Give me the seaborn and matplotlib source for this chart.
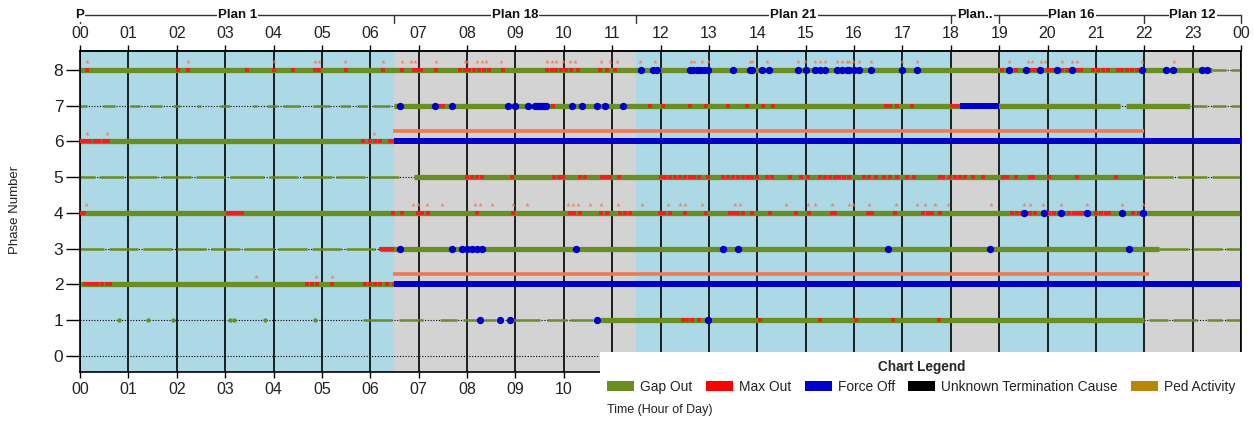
import matplotlib
matplotlib.use("Agg")
import matplotlib.pyplot as plt
from matplotlib.patches import Patch, Rectangle
import seaborn as sns
import pandas as pd

# ---------------- data ----------------
hours = list(range(25))
hour_labels = [f"{h % 24:02d}" for h in hours]
phases = [0, 1, 2, 3, 4, 5, 6, 7, 8]
last_visible_bottom_hour = 10   # later bottom labels sit behind the legend panel

plan_names = ["P", "Plan 1", "Plan 18", "Plan 21", "Plan..", "Plan 16", "Plan 12"]
plan_starts = [0.0, 0.0, 6.5, 11.5, 18.0, 19.0, 22.0]
plan_ends = [0.0, 6.5, 11.5, 18.0, 19.0, 22.0, 24.0]
plan_bg = [None, "#ADD8E6", "#D3D3D3", "#ADD8E6", "#D3D3D3", "#ADD8E6", "#D3D3D3"]

# continuous gap-out runs (dense markers), per phase: (start hour, end hour)
gap_dense = {
    8: [(0.0, 23.4)],
    7: [(6.5, 21.5), (21.62, 22.95)],
    6: [(0.0, 6.5)],
    5: [(6.9, 22.0)],
    4: [(0.0, 24.0)],
    3: [(6.2, 22.3)],
    2: [(0.0, 6.5)],
    1: [(10.74, 22.0)],
}
# sparse gap-out stretches (dashed look)
gap_sparse = {
    8: [(23.4, 23.7), (23.8, 24.0)],
    7: [(0.0, 0.15), (0.48, 0.72), (1.03, 1.24), (1.45, 1.7), (1.93, 2.07), (2.42, 2.5),
        (2.9, 3.1), (3.58, 3.65), (3.86, 4.07), (4.2, 4.55), (4.82, 5.17), (5.37, 5.58),
        (5.72, 5.93), (6.06, 6.4), (23.0, 23.3), (23.4, 23.7), (23.8, 24.0)],
    5: [(0.0, 0.3), (0.4, 0.9), (1.0, 1.6), (1.7, 2.3), (2.4, 3.0), (3.1, 3.8), (3.9, 4.5),
        (4.6, 5.2), (5.3, 5.9), (6.0, 6.6), (22.0, 22.6), (22.7, 23.3), (23.4, 24.0)],
    3: [(0.0, 0.5), (0.6, 1.2), (1.3, 1.9), (2.0, 2.6), (2.7, 3.3), (3.4, 4.0), (4.1, 4.7),
        (4.8, 5.4), (5.5, 6.1), (22.3, 22.9), (23.0, 23.6), (23.7, 24.0)],
    1: [(5.85, 6.45), (6.6, 7.1), (7.44, 7.79), (7.92, 8.2), (8.35, 8.6), (8.95, 9.5),
        (9.65, 10.06), (10.12, 10.6), (22.1, 22.5), (22.6, 23.1), (23.3, 23.6), (23.7, 24.0)],
}
gap_points = {
    1: [0.8, 1.4, 1.93, 3.1, 3.18, 3.82, 4.86],
}

max_out = {
    8: [0.15, 2.03, 2.24, 3.45, 4.0, 4.4, 4.85, 4.95, 5.5, 6.27, 6.65, 6.9, 6.97, 7.05, 7.35,
        7.85, 7.95, 8.05, 8.15, 8.25, 8.35, 8.45, 8.75, 9.65, 9.75, 9.85, 9.95, 10.05, 10.15,
        10.3, 10.75, 10.9, 11.05, 19.05, 19.35, 19.65, 19.75, 20.0, 20.1, 20.3, 20.4, 20.6,
        20.7, 20.95, 21.05, 21.15, 21.25, 21.45, 21.55, 21.65, 21.75, 21.85],
    7: [7.44, 7.5, 8.82, 9.78, 11.78, 12.05, 12.6, 12.95, 13.4, 13.78, 14.12, 14.33, 16.67,
        16.75, 16.88, 17.19, 18.02, 18.1, 18.14],
    6: [0.05, 0.12, 0.2, 0.3, 0.4, 0.5, 0.58, 5.85, 6.0, 6.1, 6.2, 6.4, 6.5],
    5: [8.0, 8.1, 8.2, 8.3, 8.93, 9.8, 9.9, 9.98, 10.33, 10.43, 10.8, 10.88, 10.95, 11.15,
        12.0, 12.1, 12.2, 12.3, 12.4, 12.5, 12.6, 12.7, 12.8, 12.98, 13.3, 13.4, 13.5, 13.6,
        13.7, 13.8, 13.9, 14.0, 14.2, 14.3, 14.67, 14.9, 15.05, 15.3, 15.4, 15.5, 15.6, 15.7,
        15.8, 15.9, 16.2, 16.3, 16.45, 16.63, 16.75, 16.88, 17.1, 17.25, 17.77, 17.85, 17.98,
        18.08, 18.2, 18.3, 18.45, 18.66, 19.07, 19.17, 19.35, 19.63, 19.7, 20.04, 20.6, 21.42],
    4: [0.02, 0.08, 3.05, 3.12, 3.2, 3.28, 3.35, 6.47, 6.65, 6.98, 7.08, 7.19, 8.2, 8.95,
        10.12, 10.22, 10.33, 10.78, 10.9, 11.16, 11.26, 11.36, 11.98, 12.08, 12.19, 12.5,
        12.95, 13.43, 13.52, 13.6, 13.7, 13.9, 14.26, 14.81, 15.08, 15.54, 15.6, 16.28, 16.38,
        16.84, 17.42, 17.52, 17.62, 17.77, 19.26, 19.36, 19.48, 19.63, 19.75, 19.9, 20.04,
        20.14, 20.24, 20.34, 20.44, 20.54, 20.64, 20.72, 21.0, 21.1, 21.2, 21.28, 21.76, 21.9],
    3: [6.23, 6.3, 6.37, 6.44],
    2: [0.1, 0.18, 0.26, 0.35, 0.45, 0.55, 0.62, 4.69, 4.8, 4.9, 5.2, 5.89, 6.0, 6.1, 6.2,
        6.34, 6.5],
    1: [12.46, 12.55, 12.65, 12.8, 14.05, 15.3, 16.05, 16.8, 17.75],
}

force_off = {
    8: [11.6, 11.85, 11.92, 12.6, 12.68, 12.75, 12.82, 12.9, 12.98, 13.5, 13.85, 13.9, 14.1,
        14.25, 14.85, 15.0, 15.2, 15.3, 15.4, 15.65, 15.75, 15.85, 15.9, 16.0, 16.1, 16.35,
        17.0, 17.3, 19.2, 19.55, 19.85, 20.2, 20.5, 21.95, 22.45, 22.6, 23.2, 23.3],
    7: [6.62, 7.33, 7.68, 8.85, 8.99, 9.26, 9.4, 9.45, 9.5, 9.55, 9.6, 9.64, 10.17, 10.37,
        10.68, 10.85, 11.22],
    4: [19.52, 19.92, 20.27, 20.81, 21.53, 21.97],
    3: [6.62, 7.68, 7.89, 8.0, 8.1, 8.2, 8.3, 10.25, 13.29, 13.6, 16.7, 18.82, 21.68],
    1: [8.26, 8.68, 8.88, 10.68, 12.98],
}
force_runs = {7: [(18.2, 19.0)], 6: [(6.5, 24.0)], 2: [(6.5, 24.0)]}

ped = {
    8: [0.15, 2.24, 4.0, 4.85, 4.95, 5.47, 6.27, 6.65, 6.85, 6.92, 7.35, 7.95, 8.0, 8.2, 8.3,
        8.4, 8.7, 9.65, 9.75, 9.85, 9.98, 10.12, 10.23, 10.78, 10.95, 11.1, 11.57, 11.88,
        12.64, 12.7, 12.85, 12.98, 13.84, 13.9, 14.2, 14.84, 14.98, 15.19, 15.3, 15.4, 15.64,
        15.76, 15.85, 15.9, 15.97, 16.11, 16.36, 17.0, 17.3, 19.21, 19.59, 19.67, 19.86,
        19.94, 20.29, 20.51, 20.6, 21.96, 22.62],
    6: [0.15, 0.55, 6.07],
    4: [0.12, 6.88, 6.98, 7.17, 7.48, 8.16, 8.26, 8.51, 8.95, 9.24, 10.08, 10.19, 10.29,
        10.54, 10.78, 11.12, 11.61, 12.15, 12.4, 12.5, 12.85, 13.53, 13.64, 14.6, 15.04,
        15.19, 15.54, 15.9, 15.97, 16.3, 16.86, 17.3, 17.46, 17.67, 17.95, 18.84, 19.52,
        19.63, 19.9, 20.27, 20.81, 21.53, 21.97],
    2: [3.63, 4.88, 5.2],
}
ped_runs = {6: [(6.47, 22.0)], 2: [(6.47, 22.1)]}

legend_labels = ["Gap Out", "Max Out", "Force Off", "Unknown Termination Cause", "Ped Activity"]
legend_colors = ["#6B8E23", "#FF0000", "#0000CD", "#000000", "#B8860B"]

GREEN = "#6B8E23"
RED = "#F02020"
BLUE = "#0000C8"
PED = "#EE7A55"

# ---------------- figure ----------------
sns.set_theme(style="white")
plt.rcParams["font.family"] = ["Liberation Sans", "DejaVu Sans"]

W, H = 1254, 428
fig = plt.figure(figsize=(W / 100, H / 100), dpi=100)
ax = fig.add_axes([80 / W, (H - 372) / H, (1241 - 80) / W, (372 - 51) / H])
ax.set_xlim(0, 24)
ax.set_ylim(-0.45, 8.53)

# plan backgrounds
for s, e, c in zip(plan_starts, plan_ends, plan_bg):
    if c is not None:
        ax.axvspan(s, e, color=c, lw=0, zorder=0)

# grid lines
for p in phases:
    ax.axhline(p, color="black", lw=0.8, ls=(0, (1, 1.5)), zorder=1)
for h in hours:
    ax.axvline(h, color="black", lw=1.2, zorder=1.5)

# gap out lines
for p, runs in gap_dense.items():
    for s, e in runs:
        ax.hlines(p, s, e, color=GREEN, lw=3.8, zorder=2)
for p, runs in gap_sparse.items():
    for s, e in runs:
        ax.hlines(p, s, e, color=GREEN, lw=2.0, alpha=0.85, zorder=2)

rows = []
for p, ts in gap_points.items():
    rows += [(t, p, "Gap Out") for t in ts]
for p, ts in max_out.items():
    rows += [(t, p, "Max Out") for t in ts]
for p, ts in force_off.items():
    rows += [(t, p, "Force Off") for t in ts]
for p, ts in ped.items():
    rows += [(t, p + 0.24, "Ped Activity") for t in ts]
df = pd.DataFrame(rows, columns=["hour", "phase", "event"])

sns.scatterplot(data=df[df.event == "Gap Out"], x="hour", y="phase", color=GREEN,
                marker="o", s=10, linewidth=0, ax=ax, zorder=3, legend=False)
sns.scatterplot(data=df[df.event == "Max Out"], x="hour", y="phase", color=RED,
                marker="s", s=11, linewidth=0, ax=ax, zorder=3, legend=False)
sns.scatterplot(data=df[df.event == "Ped Activity"], x="hour", y="phase", color=PED,
                marker="^", s=7, linewidth=0, alpha=0.8, ax=ax, zorder=3, legend=False)

for p, runs in ped_runs.items():
    for s, e in runs:
        ax.hlines(p + 0.3, s, e, color=PED, lw=2.6, zorder=3)
for p, runs in force_runs.items():
    for s, e in runs:
        ax.hlines(p, s, e, color=BLUE, lw=4.3, zorder=4)

sns.scatterplot(data=df[df.event == "Force Off"], x="hour", y="phase", color=BLUE,
                marker="o", s=28, linewidth=0, ax=ax, zorder=5, legend=False)

ax.set_xlabel("")
ax.set_ylabel("")

# ticks
bottom_labels = [lab if h <= last_visible_bottom_hour else "" for h, lab in zip(hours, hour_labels)]
ax.set_xticks(hours)
ax.set_xticklabels(bottom_labels)
ax.set_yticks(phases)
ax.set_yticklabels([str(p) for p in phases])
ax.tick_params(axis="x", bottom=True, labelbottom=True, length=4, width=1, color="black",
               pad=3, labelsize=11.5, labelcolor="#222222", direction="out")
ax.tick_params(axis="y", left=True, length=10, width=1, color="black", pad=2,
               labelsize=12.5, labelcolor="#222222", direction="out")
for sp in ax.spines.values():
    sp.set_color("black")
    sp.set_linewidth(1.2)

top = ax.secondary_xaxis("top")
top.set_xticks(hours)
top.set_xticklabels(hour_labels)
top.tick_params(axis="x", length=4, width=1, color="black", pad=3, labelsize=11.5,
                labelcolor="#222222", direction="out")
top.spines["top"].set_linewidth(1.2)

# plan annotation line above the chart
trans = ax.get_xaxis_transform()
ax.plot([0, 24], [1.112, 1.112], color="#333333", lw=1, transform=trans, clip_on=False)
for b in sorted(set(plan_starts[1:] + plan_ends[1:])):
    ax.plot([b, b], [1.112, 1.088], color="#333333", lw=1, transform=trans, clip_on=False)
for name, s, e in zip(plan_names, plan_starts, plan_ends):
    ax.text((s + e) / 2, 1.112, name, transform=trans, ha="center", va="center",
            fontsize=9.5, fontweight="bold", color="#111111", clip_on=False,
            bbox=dict(facecolor="white", edgecolor="none", pad=0.6))

# y label
fig.text(15 / W, 1 - 210 / H, "Phase Number", rotation=90, ha="center", va="center",
         fontsize=9.5, color="#222222")

# legend panel
fig.patches.append(Rectangle((600 / W, 0), (W - 600) / W, 76 / H, transform=fig.transFigure,
                             facecolor="white", edgecolor="none", zorder=4))
handles = [Patch(facecolor=c, edgecolor="none") for c in legend_colors]
leg = fig.legend(handles, legend_labels, ncol=5, loc="upper left",
                 bbox_to_anchor=(606 / W, 1 - 359 / H), frameon=False,
                 title="Chart Legend", title_fontproperties={"weight": "bold", "size": 9.8},
                 fontsize=9.9, handlelength=1.95, handleheight=0.72, handletextpad=0.45,
                 columnspacing=0.98, borderaxespad=0, borderpad=0.1, labelspacing=0.2)
leg._legend_box.sep = 4
leg.set_zorder(6)
for t in leg.get_texts():
    t.set_color("#222222")

fig.text(607 / W, 1 - 410 / H, "Time (Hour of Day)", ha="left", va="center",
         fontsize=9, color="#222222", zorder=7)

fig.savefig("out.png", dpi=100)
